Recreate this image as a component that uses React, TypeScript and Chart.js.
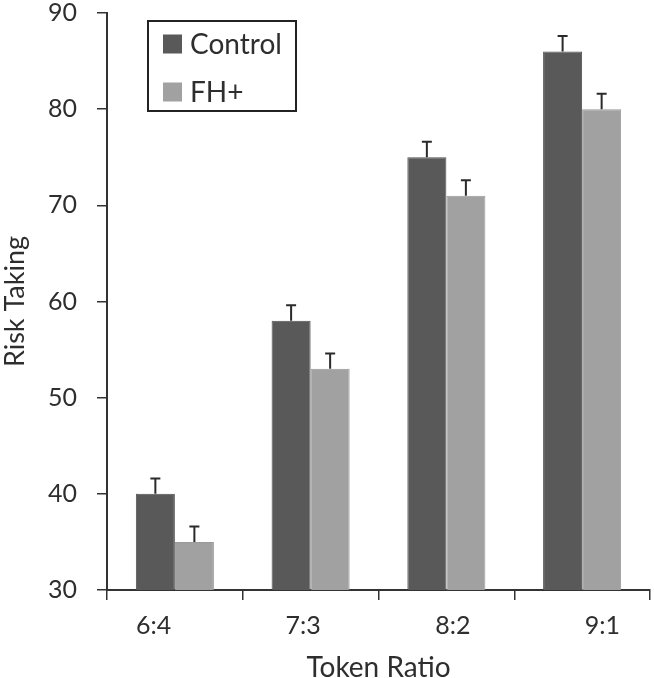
import React, { useEffect, useRef } from "react";
import { Chart, registerables } from "chart.js";

Chart.register(...registerables);

const categories = ["6:4", "7:3", "8:2", "9:1"];
const controlValues = [40, 58, 75, 86];
const fhValues = [35, 53, 71, 80];
const controlErrors = [1.6, 1.6, 1.6, 1.6];
const fhErrors = [1.6, 1.6, 1.6, 1.6];
const seriesNames = ["Control", "FH+"];
const yTicks = [30, 40, 50, 60, 70, 80, 90];

const FONT = "Lato, 'Open Sans', sans-serif";
const TEXT = "#2e2e2e";
const AXIS = "#333333";

const errorBarPlugin = {
  id: "errorBars",
  afterDatasetsDraw(chart: any) {
    const ctx = chart.ctx;
    const yScale = chart.scales.y;
    chart.data.datasets.forEach((ds: any, di: number) => {
      const meta = chart.getDatasetMeta(di);
      const errs: number[] = ds.errors || [];
      meta.data.forEach((bar: any, i: number) => {
        const v = ds.data[i];
        const e = errs[i] || 0;
        const x = bar.x;
        const y0 = yScale.getPixelForValue(v);
        const y1 = yScale.getPixelForValue(v + e);
        ctx.save();
        ctx.strokeStyle = "#2a2a2a";
        ctx.lineWidth = 2;
        ctx.beginPath();
        ctx.moveTo(x, y0);
        ctx.lineTo(x, y1);
        ctx.moveTo(x - 5, y1);
        ctx.lineTo(x + 5, y1);
        ctx.stroke();
        ctx.restore();
      });
    });
  },
};

const legendPlugin = {
  id: "boxLegend",
  afterDraw(chart: any) {
    const ctx = chart.ctx;
    const area = chart.chartArea;
    const bx = area.left + 41;
    const by = area.top + 8;
    const bw = 148;
    const bh = 90;
    ctx.save();
    ctx.strokeStyle = "#222222";
    ctx.lineWidth = 2;
    ctx.strokeRect(bx, by, bw, bh);
    chart.data.datasets.forEach((ds: any, i: number) => {
      const cy = by + 23 + i * 48;
      ctx.fillStyle = ds.backgroundColor;
      ctx.fillRect(bx + 15, cy - 9.5, 19, 19);
      ctx.fillStyle = TEXT;
      ctx.font = `28px ${FONT}`;
      ctx.textBaseline = "middle";
      ctx.textAlign = "left";
      ctx.fillText(ds.label, bx + 42, cy + 1);
    });
    ctx.restore();
  },
};

export default function App() {
  const ref = useRef<HTMLCanvasElement | null>(null);

  useEffect(() => {
    document.body.style.margin = "0";
    if (!ref.current) return;
    const chart = new Chart(ref.current, {
      type: "bar",
      data: {
        labels: categories,
        datasets: [
          {
            label: seriesNames[0],
            data: controlValues,
            errors: controlErrors,
            backgroundColor: "#595959",
            borderColor: "#505050",
            borderWidth: 1,
            barPercentage: 1,
            categoryPercentage: 0.575,
          } as any,
          {
            label: seriesNames[1],
            data: fhValues,
            errors: fhErrors,
            backgroundColor: "#a1a1a1",
            borderColor: "#999999",
            borderWidth: 1,
            barPercentage: 1,
            categoryPercentage: 0.575,
          } as any,
        ],
      },
      options: {
        responsive: false,
        animation: false,
        layout: { padding: { left: 0, right: 4, top: 0, bottom: 0 } },
        plugins: {
          legend: { display: false },
          tooltip: { enabled: false },
        },
        scales: {
          x: {
            position: "bottom",
            weight: 0,
            grid: {
              display: true,
              drawOnChartArea: false,
              drawTicks: true,
              tickLength: 10,
              color: AXIS,
              lineWidth: 1.5,
              offset: true,
            },
            border: { display: true, color: AXIS, width: 2 },
            ticks: { display: false },
            afterFit(scale: any) {
              scale.height = 10;
            },
          },
          x2: {
            type: "linear",
            position: "bottom",
            weight: 1,
            offset: false,
            min: -0.3107,
            max: 3.3174,
            grid: { display: false, drawTicks: false, offset: false },
            border: { display: false },
            ticks: {
              stepSize: 1,
              includeBounds: false,
              autoSkip: false,
              maxRotation: 0,
              padding: 11,
              color: TEXT,
              font: { family: FONT, size: 25 },
              callback: (v: any) =>
                Number.isInteger(v) && categories[v] !== undefined ? categories[v] : "",
            },
            title: {
              display: true,
              text: "Token Ratio",
              color: TEXT,
              font: { family: FONT, size: 28, lineHeight: 1 },
              padding: { top: 0, bottom: -4 },
            },
            afterFit(scale: any) {
              scale.height = 78;
            },
          } as any,
          y: {
            min: yTicks[0],
            max: yTicks[yTicks.length - 1],
            afterBuildTicks(scale: any) {
              scale.ticks = yTicks.map((v) => ({ value: v }));
            },
            grid: {
              display: true,
              drawOnChartArea: false,
              drawTicks: true,
              tickLength: 10,
              color: AXIS,
              lineWidth: 1.5,
            },
            border: { display: true, color: AXIS, width: 2 },
            ticks: {
              padding: 20,
              color: TEXT,
              font: { family: FONT, size: 25, lineHeight: 1.1 },
            },
            title: {
              display: true,
              text: "Risk Taking",
              color: TEXT,
              font: { family: FONT, size: 27, lineHeight: 1.1 },
              padding: { top: 0, bottom: 0 },
            },
            afterFit(scale: any) {
              scale.width = 107;
              scale.paddingTop = 13;
              scale.paddingBottom = 0;
            },
          },
        },
      },
      plugins: [errorBarPlugin, legendPlugin],
    });
    return () => chart.destroy();
  }, []);

  return (
    <div style={{ width: 654, height: 678, background: "#ffffff" }}>
      <canvas ref={ref} width={654} height={678} />
    </div>
  );
}
